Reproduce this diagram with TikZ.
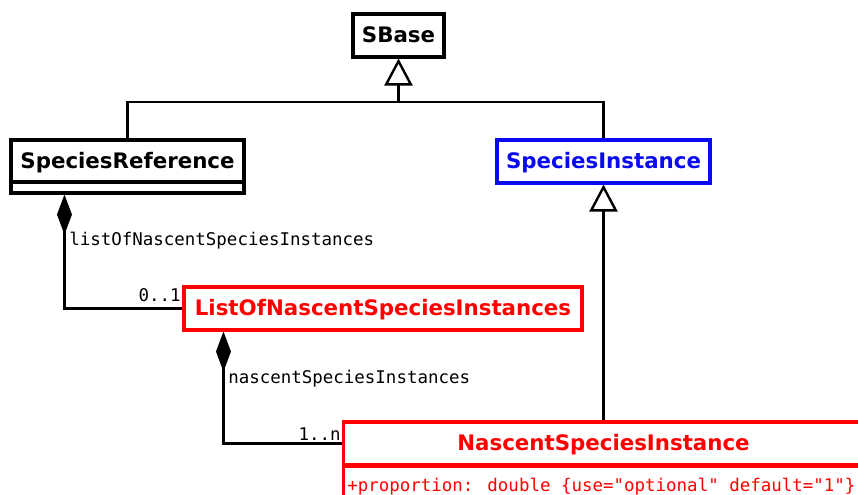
\documentclass[tikz,border=0pt]{standalone}
\usepackage{fontspec}
\setmainfont{DejaVu Sans}
\newfontfamily\monof{DejaVu Sans Mono}
\usetikzlibrary{arrows.meta}
\definecolor{umlred}{RGB}{255,0,0}
\definecolor{umlblue}{RGB}{10,10,240}
\begin{document}
\begin{tikzpicture}[x=0.75pt,y=-0.75pt,
  cls/.style={draw, line width=2.3pt, inner sep=0pt, minimum height=32.25pt,
    text height=12pt, text depth=1pt,
    font=\fontsize{16}{18}\selectfont\bfseries},
  conn/.style={draw=black, line width=2.2pt},
  lbl/.style={inner sep=0pt, font=\monof\fontsize{13.1}{15}\selectfont},
  gentip/.style={-{Triangle[fill=white, length=20.25pt, width=21pt, line width=1.8pt]}},
  comptip/.style={{Diamond[length=30pt, width=11.25pt]}-}
]
\useasboundingbox (0,0) rectangle (858,495);
\clip (0,0) rectangle (858,495);
\fill[white] (0,0) rectangle (858,495);

% classes
\node[cls, minimum width=68.25pt] (sbase) at (398.5,35.5) {SBase};
\node[cls, minimum width=174.75pt, minimum height=31.5pt] (sr) at (127.5,161) {SpeciesReference};
\node[cls, minimum width=174.75pt, minimum height=8.25pt, text height=0pt, text depth=0pt] (srattr) at (127.5,187.5) {};
\node[cls, draw=umlblue, text=umlblue, minimum width=159.75pt] (si) at (603.5,161.5) {SpeciesInstance};
\node[cls, draw=umlred, text=umlred, minimum width=298.5pt] (lo) at (383,308.5) {ListOfNascentSpeciesInstances};
\node[cls, draw=umlred, text=umlred, minimum width=390pt] (nsi) at (603.5,443.5) {NascentSpeciesInstance};
\node[cls, draw=umlred, minimum width=390pt, minimum height=33.75pt, text height=0pt, text depth=0pt] (nsiattr) at (603.5,488.5) {};
\node[lbl, text=umlred, anchor=base west] (attr) at (347,492)
  {+proportion: double \{use="optional" default="1"\}};

% generalizations
\coordinate (j) at (398.5,102);
\draw[conn] (sr.north) |- (j) -| (si.north);
\draw[conn, gentip] (j) -- (sbase.south);
\draw[conn, gentip] (nsi.north) -- (si.south);

% compositions
\draw[conn, comptip] ([xshift=41.25pt]srattr.south west) |- (lo.west);
\draw[conn, comptip] ([xshift=30.75pt]lo.south west) |- (nsi.west);

% labels
\node[lbl, anchor=base west] (l1) at (69,246) {listOfNascentSpeciesInstances};
\node[lbl, anchor=base east] (m1) at (181,302) {0..1};
\node[lbl, anchor=base west] (l2) at (228,384) {nascentSpeciesInstances};
\node[lbl, anchor=base east] (m2) at (341,441) {1..n};
\end{tikzpicture}
\end{document}
